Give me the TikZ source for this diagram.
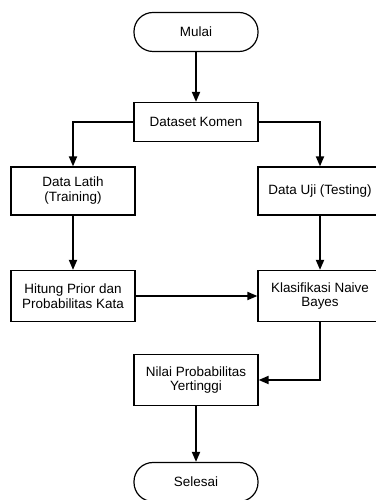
\documentclass[tikz,border=0pt]{standalone}
\usepackage{fontspec}
\setmainfont{Liberation Sans}
\usetikzlibrary{arrows.meta}

\begin{document}
\begin{tikzpicture} [x=1bp,y=1bp,font=\fontsize{13.5}{15}\selectfont,
		proses/.style={draw,line width=1.2bp,minimum width=124bp,align=center,inner sep=2bp},
		terminal/.style={draw,line width=1.2bp,rounded corners=19bp,minimum width=124bp,minimum height=39bp},
		panah/.style={line width=1.8bp,-{Triangle[length=10bp,width=8bp]}}]
		\useasboundingbox (0,0) rectangle (375,500);
		\node [terminal] (mulai) at (196,468) {Mulai};
		\node [proses,minimum height=39bp] (dataset) at (196,378) {Dataset Komen};
		\node [proses,minimum height=48bp] (latih) at (73,309) {Data Latih\\(Training)};
		\node [proses,minimum height=48bp] (uji) at (320,309) {Data Uji (Testing)};
		\node [proses,minimum height=51bp] (hitung) at (73,204) {Hitung Prior dan\\Probabilitas Kata};
		\node [proses,minimum height=51bp] (klasifikasi) at (320,204) {Klasifikasi Naive\\Bayes};
		\node [proses,minimum height=51bp] (nilai) at (196,120) {Nilai Probabilitas\\Yertinggi};
		\node [terminal] (selesai) at (196,18) {Selesai};
		\draw [panah] (mulai) -- (dataset);
		\draw [panah] (dataset.west) -| (latih.north);
		\draw [panah] (dataset.east) -| (uji.north);
		\draw [panah] (latih) -- (hitung);
		\draw [panah] (uji) -- (klasifikasi);
		\draw [panah] (hitung) -- (klasifikasi);
		\draw [panah] (klasifikasi.south) |- (nilai.east);
		\draw [panah] (nilai) -- (selesai);
	\end{tikzpicture}
\end{document}
